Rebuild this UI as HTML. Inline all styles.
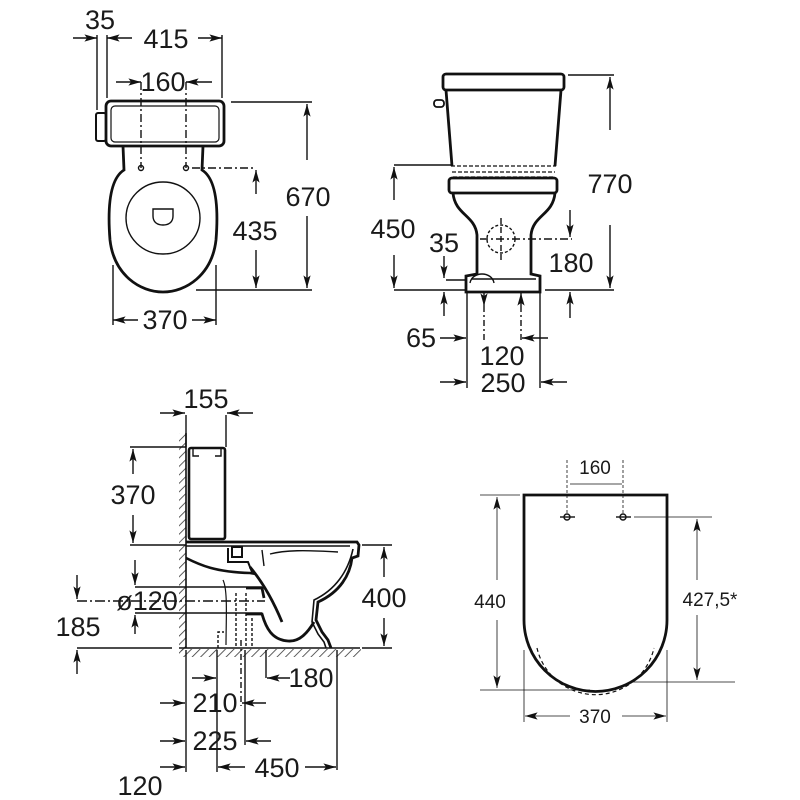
<!DOCTYPE html>
<html><head><meta charset="utf-8"><style>
html,body{margin:0;padding:0;background:#fff}
svg{display:block}
text{font-family:"Liberation Sans",Arial,sans-serif;fill:#1a1a1a}
</style></head><body>
<svg width="800" height="800" viewBox="0 0 800 800" xmlns="http://www.w3.org/2000/svg">
<defs>
<marker id="a" viewBox="0 0 14 10" refX="14" refY="5" markerWidth="13" markerHeight="9" markerUnits="userSpaceOnUse" orient="auto"><path d="M0,1 L14,5 L0,9 L3,5 z" fill="#111"/></marker>
<pattern id="h" patternUnits="userSpaceOnUse" width="6" height="6" patternTransform="rotate(45)"><line x1="0" y1="0" x2="0" y2="6" stroke="#333" stroke-width="1.6"/></pattern>
</defs>
<g stroke="#111" fill="none" stroke-width="1.4">
<!-- ===== TOP LEFT (plan) ===== -->
<line x1="97" y1="35" x2="97" y2="110"/>
<line x1="107" y1="35" x2="107" y2="98"/>
<line x1="222" y1="35" x2="222" y2="98"/>
<line x1="73" y1="38" x2="97" y2="38" marker-end="url(#a)"/>
<line x1="132" y1="38" x2="107" y2="38" marker-end="url(#a)"/>
<line x1="198" y1="38" x2="222" y2="38" marker-end="url(#a)"/>
<line x1="116" y1="82" x2="141" y2="82" marker-end="url(#a)"/>
<line x1="212" y1="82" x2="186" y2="82" marker-end="url(#a)"/>
<line x1="141" y1="82" x2="141" y2="168" stroke-dasharray="8,3,2,3"/>
<line x1="186" y1="82" x2="186" y2="168" stroke-dasharray="8,3,2,3"/>
<rect x="106" y="101" width="118" height="45" rx="5" stroke-width="2.8"/>
<rect x="111" y="106" width="108" height="36" rx="4" stroke-width="1.2"/>
<rect x="96" y="113" width="10" height="28" rx="2" stroke-width="2"/>
<path d="M123,146 L124,170 C108,180 108,215 110,240 C114,275 140,292 163,292 C186,292 212,275 216,240 C218,215 218,180 202,170 L203,146" stroke-width="2.8"/>
<ellipse cx="163" cy="218" rx="37" ry="36" stroke-width="1.4"/>
<path d="M153,209 h20 v7 c0,6 -4,9 -10,9 c-6,0 -10,-3 -10,-9 z" stroke-width="1.4"/>
<circle cx="141" cy="168" r="2.5"/><circle cx="186" cy="168" r="2.5"/>
<line x1="192" y1="168" x2="255" y2="168" stroke-dasharray="8,3,2,3"/>
<line x1="231" y1="102" x2="312" y2="102"/>
<line x1="196" y1="290" x2="312" y2="290"/>
<line x1="307" y1="160" x2="307" y2="104" marker-end="url(#a)"/>
<line x1="307" y1="216" x2="307" y2="288" marker-end="url(#a)"/>
<line x1="256" y1="194" x2="256" y2="170" marker-end="url(#a)"/>
<line x1="256" y1="250" x2="256" y2="288" marker-end="url(#a)"/>
<line x1="113" y1="265" x2="113" y2="325"/>
<line x1="216" y1="265" x2="216" y2="325"/>
<line x1="138" y1="320" x2="113" y2="320" marker-end="url(#a)"/>
<line x1="192" y1="320" x2="216" y2="320" marker-end="url(#a)"/>

<!-- ===== TOP RIGHT (front) ===== -->
<rect x="443" y="74" width="121" height="16" rx="3" stroke-width="2.8"/>
<path d="M446,90 L452,166 M561,90 L555,166" stroke-width="2.8"/>
<rect x="434" y="100" width="10" height="7" rx="3" stroke-width="1.8"/>
<path d="M451,166 H556 M452,172 H555 M453,177 H554" stroke-dasharray="4,2" stroke-width="1.2"/>
<rect x="449" y="178" width="108" height="15" rx="3" stroke-width="2.8"/>
<path d="M453,193 C455,215 475,215 477,235 L477,274 L466,276 L466,292 L540,292 L540,276 L531,274 L531,235 C533,215 553,215 555,193" stroke-width="2.8"/>
<line x1="472" y1="279" x2="536" y2="279"/>
<path d="M470,283 C472,271 492,271 494,283" stroke-width="1.4"/>
<circle cx="501" cy="239" r="14" stroke-dasharray="3,2"/>
<line x1="501" y1="218" x2="501" y2="260" stroke-dasharray="6,3"/>
<line x1="480" y1="239" x2="572" y2="239" stroke-dasharray="8,3,2,3"/>
<line x1="568" y1="75" x2="614" y2="75"/>
<line x1="545" y1="290" x2="614" y2="290"/>
<line x1="610" y1="130" x2="610" y2="77" marker-end="url(#a)"/>
<line x1="610" y1="225" x2="610" y2="288" marker-end="url(#a)"/>
<line x1="394" y1="165" x2="452" y2="165"/>
<line x1="394" y1="290" x2="465" y2="290"/>
<line x1="394" y1="200" x2="394" y2="167" marker-end="url(#a)"/>
<line x1="394" y1="255" x2="394" y2="288" marker-end="url(#a)"/>
<line x1="570" y1="210" x2="570" y2="237" marker-end="url(#a)"/>
<line x1="570" y1="318" x2="570" y2="292" marker-end="url(#a)"/>
<line x1="444" y1="256" x2="444" y2="278" marker-end="url(#a)"/>
<line x1="444" y1="316" x2="444" y2="292" marker-end="url(#a)"/>
<line x1="446" y1="280" x2="467" y2="280"/>
<line x1="484" y1="293" x2="484" y2="306" marker-end="url(#a)"/>
<line x1="521" y1="306" x2="521" y2="293" marker-end="url(#a)"/>
<line x1="484" y1="306" x2="484" y2="340" stroke-dasharray="6,3,2,3"/>
<line x1="521" y1="306" x2="521" y2="340" stroke-dasharray="6,3,2,3"/>
<line x1="467" y1="292" x2="467" y2="388"/>
<line x1="540" y1="292" x2="540" y2="388"/>
<line x1="440" y1="338" x2="466" y2="338" marker-end="url(#a)"/>
<line x1="548" y1="338" x2="522" y2="338" marker-end="url(#a)"/>
<line x1="440" y1="382" x2="466" y2="382" marker-end="url(#a)"/>
<line x1="567" y1="382" x2="541" y2="382" marker-end="url(#a)"/>

<!-- ===== BOTTOM LEFT (side) ===== -->
<rect x="179" y="433" width="7" height="218" fill="url(#h)" stroke="none"/>
<line x1="186" y1="433" x2="186" y2="648" stroke-width="1.6"/>
<rect x="179" y="649" width="182" height="8" fill="url(#h)" stroke="none"/>
<line x1="179" y1="648" x2="360" y2="648" stroke-width="1.6"/>
<line x1="186" y1="415" x2="186" y2="447"/>
<line x1="226" y1="415" x2="226" y2="447"/>
<line x1="160" y1="413" x2="185" y2="413" marker-end="url(#a)"/>
<line x1="253" y1="413" x2="227" y2="413" marker-end="url(#a)"/>
<rect x="189" y="448" width="36" height="91" rx="2" stroke-width="2.6"/>
<path d="M193,448 v8 h6 M221,448 v8 h-6" stroke-width="1.4"/>
<line x1="130" y1="447" x2="186" y2="447"/>
<line x1="130" y1="545" x2="186" y2="545"/>
<line x1="133" y1="474" x2="133" y2="449" marker-end="url(#a)"/>
<line x1="133" y1="515" x2="133" y2="543" marker-end="url(#a)"/>
<path d="M186,542 L357,542 L359,545 L358,556 L352,558 C350,575 340,592 318,602 L316,620 L322,632 L328,640 L331,648" stroke-width="2.8"/>
<path d="M186,546 L350,546" stroke-width="1.6"/>
<path d="M353,549 C348,572 335,590 314,600 L312,622 L318,634 L324,642 L326,648" stroke-width="1.6"/>
<path d="M232,547 h10 v10 h-10 z M228,548 L228,562 L248,562 L252,572" stroke-width="2"/>
<path d="M262,550 L264,566 M270,554 C285,550 305,550 338,552" stroke-width="1.4"/>
<path d="M186,558 C200,565 215,572 250,573 L256,574" stroke-width="2.6"/>
<path d="M250,567 C265,585 275,605 282,622" stroke-width="2.8"/>
<path d="M246,588 L262,588 L264,598 M246,614 L262,614 C266,628 272,640 288,641 C300,642 308,632 314,622" stroke-width="2.8"/>
<path d="M223,580 C228,590 226,620 226,645" stroke-width="1.2"/>
<path d="M218,648 V632 h6 M236,593 V648 M246,593 V648 M252,618 V648" stroke-dasharray="3,2"/>
<line x1="135" y1="587" x2="262" y2="587"/>
<line x1="135" y1="613" x2="262" y2="613"/>
<line x1="77" y1="601" x2="265" y2="601" stroke-dasharray="10,3,2,3"/>
<line x1="77" y1="575" x2="77" y2="599" marker-end="url(#a)"/>
<line x1="77" y1="674" x2="77" y2="650" marker-end="url(#a)"/>
<line x1="77" y1="648" x2="172" y2="648"/>
<line x1="135" y1="560" x2="135" y2="585" marker-end="url(#a)"/>
<line x1="135" y1="634" x2="135" y2="615" marker-end="url(#a)"/>
<line x1="362" y1="545" x2="392" y2="545"/>
<line x1="362" y1="648" x2="392" y2="648"/>
<line x1="384" y1="577" x2="384" y2="547" marker-end="url(#a)"/>
<line x1="384" y1="618" x2="384" y2="646" marker-end="url(#a)"/>
<line x1="186" y1="650" x2="186" y2="772"/>
<line x1="217" y1="650" x2="217" y2="772"/>
<line x1="241" y1="640" x2="241" y2="706" stroke-dasharray="6,3,2,3"/>
<line x1="245" y1="650" x2="245" y2="745"/>
<line x1="266" y1="650" x2="266" y2="678"/>
<line x1="337" y1="650" x2="337" y2="770"/>
<line x1="192" y1="678" x2="216" y2="678" marker-end="url(#a)"/>
<line x1="290" y1="678" x2="267" y2="678" marker-end="url(#a)"/>
<line x1="160" y1="703" x2="185" y2="703" marker-end="url(#a)"/>
<line x1="266" y1="703" x2="242" y2="703" marker-end="url(#a)"/>
<line x1="160" y1="741" x2="185" y2="741" marker-end="url(#a)"/>
<line x1="271" y1="741" x2="246" y2="741" marker-end="url(#a)"/>
<line x1="160" y1="767" x2="185" y2="767" marker-end="url(#a)"/>
<line x1="245" y1="767" x2="218" y2="767" marker-end="url(#a)"/>
<line x1="305" y1="767" x2="336" y2="767" marker-end="url(#a)"/>

<!-- ===== BOTTOM RIGHT (seat) ===== -->
<path d="M524,495 H667 V620 A71.5,71.5 0 0 1 524,620 Z" stroke-width="2.8"/>
<path d="M537,648 A60,60 0 0 0 654,648" stroke-dasharray="4,3" stroke-width="1.2"/>
<circle cx="567" cy="517" r="3"/><circle cx="623" cy="517" r="3"/>
<line x1="560" y1="517" x2="575" y2="517"/><line x1="616" y1="517" x2="631" y2="517"/>
<line x1="567" y1="460" x2="567" y2="513" stroke-dasharray="3,2" stroke-width="0.8"/>
<line x1="623" y1="460" x2="623" y2="513" stroke-dasharray="3,2" stroke-width="0.8"/>
<line x1="570" y1="484" x2="622" y2="484" stroke-width="0.8"/>
<line x1="480" y1="495" x2="520" y2="495" stroke-width="0.8"/>
<line x1="480" y1="690" x2="590" y2="690" stroke-width="0.8"/>
<line x1="497" y1="580" x2="497" y2="497" marker-end="url(#a)" stroke-width="0.8"/>
<line x1="497" y1="620" x2="497" y2="688" marker-end="url(#a)" stroke-width="0.8"/>
<line x1="634" y1="517" x2="712" y2="517" stroke-width="0.8"/>
<line x1="630" y1="682" x2="735" y2="682" stroke-width="0.8"/>
<line x1="697" y1="580" x2="697" y2="519" marker-end="url(#a)" stroke-width="0.8"/>
<line x1="697" y1="615" x2="697" y2="680" marker-end="url(#a)" stroke-width="0.8"/>
<line x1="524" y1="650" x2="524" y2="722" stroke-width="0.8"/>
<line x1="667" y1="650" x2="667" y2="722" stroke-width="0.8"/>
<line x1="570" y1="716" x2="525" y2="716" marker-end="url(#a)" stroke-width="0.8"/>
<line x1="622" y1="716" x2="666" y2="716" marker-end="url(#a)" stroke-width="0.8"/>
</g>
<g font-size="27" text-anchor="middle">
<text x="100" y="29">35</text>
<text x="166" y="48">415</text>
<text x="163" y="91">160</text>
<text x="308" y="206">670</text>
<text x="255" y="240">435</text>
<text x="165" y="329">370</text>
<text x="610" y="193">770</text>
<text x="393" y="238">450</text>
<text x="444" y="252">35</text>
<text x="571" y="272">180</text>
<text x="421" y="347">65</text>
<text x="502" y="365">120</text>
<text x="503" y="392">250</text>
<text x="206" y="408">155</text>
<text x="133" y="504">370</text>
<text x="384" y="607">400</text>
<text x="147" y="610">ø120</text>
<text x="78" y="636">185</text>
<text x="311" y="687">180</text>
<text x="215" y="712">210</text>
<text x="215" y="750">225</text>
<text x="277" y="777">450</text>
<text x="140" y="795">120</text>
</g>
<g font-size="19" text-anchor="middle" fill="#333">
<text x="595" y="474">160</text>
<text x="490" y="608">440</text>
<text x="710" y="606">427,5*</text>
<text x="595" y="723">370</text>
</g>
</svg>
</body></html>
